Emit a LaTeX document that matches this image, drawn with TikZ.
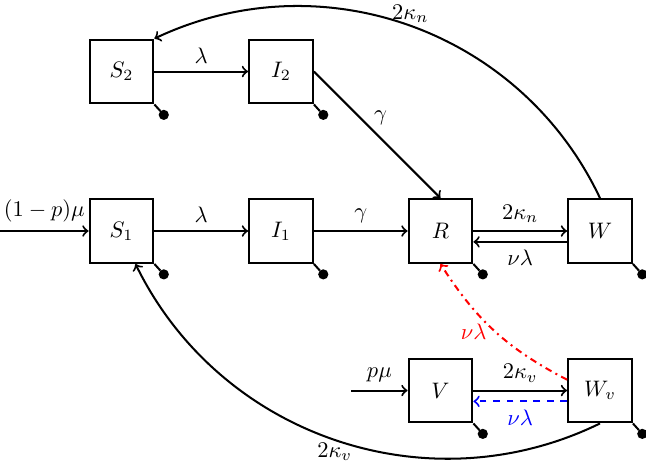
\documentclass[tikz,border=0pt]{standalone}
\tikzstyle{box}=[draw, minimum size=1cm, inner sep=0pt]

\begin{document}
\begin{tikzpicture}[line width=0.9pt, >=to]
    \useasboundingbox (-1.904,-3.683) rectangle (8.221,3.621);
% Compartments
    \node[box] (S1) at (0,0) {$S_1$};
    \node[box] (I1) at (2.5,0) {$I_1$};
    \node[box] (R) at (5,0) {$R$};
    \node[box] (W) at (7.5,0) {$W$};
    \node[box] (S2) at (0,2.5) {$S_2$};
    \node[box] (I2) at (2.5,2.5) {$I_2$};
    \node[box] (V) at (5,-2.5) {$V$};
    \node[box] (Wv) at (7.5,-2.5) {$W_v$};
% Deaths
    \foreach \n in {S1,I1,R,W,S2,I2,V,Wv} {
        \draw (\n.south east) -- ++(-48:0.14);
        \fill (\n.south east) ++(-48:0.22) circle(0.08);
    }
% Births
    \coordinate (b1) at (-1.904,0);
    \coordinate (b2) at (3.6,-2.5);
    \draw[->] (b1) -- node[above] {$(1-p)\mu$} (S1);
    \draw[->] (b2) -- node[above] {$p\mu$} (V);
% Infection and recovery
    \draw[->] (S1) -- node[above] {$\lambda$} (I1);
    \draw[->] (I1) -- node[above] {$\gamma$} (R);
    \draw[->] (S2) -- node[above] {$\lambda$} (I2);
    \draw[->] (I2.east) -- node[pos=0.45, above right, inner sep=1pt] {$\gamma$} (R.north);
% Waning and boosting
    \draw[->] (R) -- node[above] {$2\kappa_n$} (W);
    \draw[->] ([yshift=-0.17cm]W.west) -- node[below] {$\nu\lambda$} ([yshift=-0.17cm]R.east);
    \draw[->] (V) -- node[above] {$2\kappa_v$} (Wv);
    \draw[->, dashed, blue] ([yshift=-0.17cm]Wv.west) -- node[below] {$\nu\lambda$} ([yshift=-0.17cm]V.east);
    \draw[->, dash dot, red] ([yshift=0.17cm]Wv.west) to[bend left=15] node[left] {$\nu\lambda$} (R.south);
% Loss of immunity
    \draw[->] (W.north) to[bend right=45] node[above, inner sep=1pt] {$2\kappa_n$} (S2.north east);
    \draw[->] (Wv.south) to[bend left=45] node[below, inner sep=1pt] {$2\kappa_v$} (S1);
\end{tikzpicture}
\end{document}
